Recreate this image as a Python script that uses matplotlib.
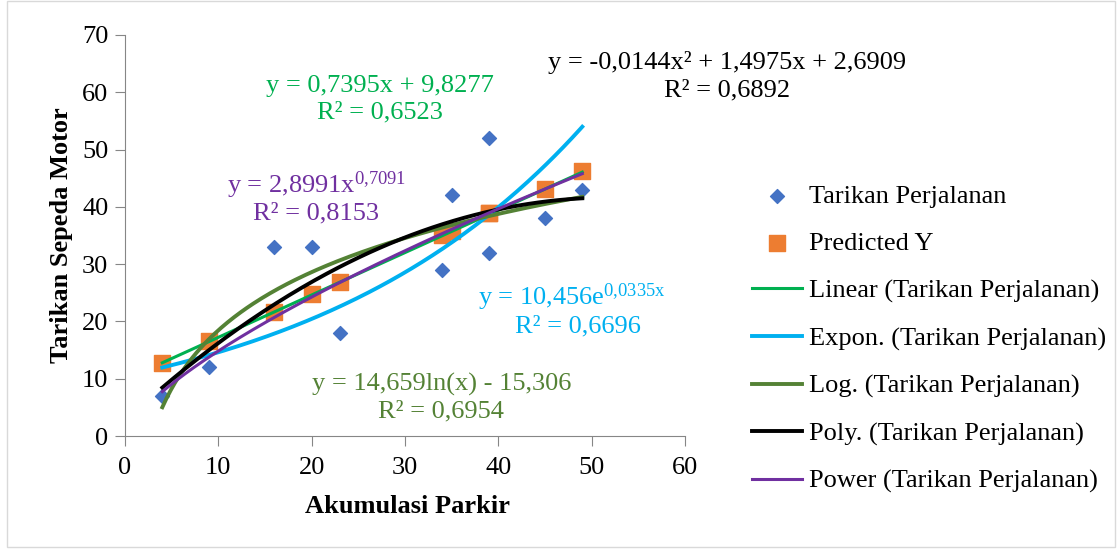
import matplotlib
matplotlib.use('Agg')
import matplotlib.pyplot as plt
import numpy as np
from matplotlib.patches import Rectangle

plt.rcParams['font.family'] = 'Liberation Serif'
plt.rcParams['mathtext.fontset'] = 'custom'
plt.rcParams['mathtext.rm'] = 'Liberation Serif'
plt.rcParams['mathtext.it'] = 'Liberation Serif'

# data
akumulasi = [4, 9, 16, 20, 23, 34, 35, 39, 39, 45, 49]
tarikan = [7, 12, 33, 33, 18, 29, 42, 52, 32, 38, 43]
predicted = [12.8, 16.5, 21.7, 24.8, 26.9, 35.0, 35.7, 38.9, 38.9, 43.2, 46.3]

# trendline coefficients as shown on the chart
lin_coef = [0.7395, 9.8277]
exp_coef = [10.456, 0.0335]
log_coef = [14.659, -15.306]
poly_coef = [-0.0144, 1.4975, 2.6909]
pow_coef = [2.8991, 0.7091]

c_blue = '#4472C4'
c_orange = '#ED7D31'
c_lin = '#00B050'
c_exp = '#00B0F0'
c_log = '#548235'
c_poly = '#000000'
c_pow = '#7030A0'

fs = 19

fig = plt.figure(figsize=(11.19, 5.51), dpi=100)
fig.patches.append(Rectangle((0.006, 0.008), 0.99, 0.99, transform=fig.transFigure,
                             fill=False, edgecolor='#D9D9D9', lw=1))
ax = fig.add_axes([0.1117, 0.2087, 0.5004, 0.7278])

xs = np.linspace(min(akumulasi), max(akumulasi), 200)
ax.scatter(akumulasi, tarikan, marker='D', s=50, color=c_blue, zorder=3,
           label='Tarikan Perjalanan')
ax.scatter(akumulasi, predicted, marker='s', s=120, color=c_orange, zorder=2,
           label='Predicted Y')
ax.plot(xs, np.polyval(lin_coef, xs), color=c_lin, lw=2.2, zorder=4,
        label='Linear (Tarikan Perjalanan)')
ax.plot(xs, exp_coef[0] * np.exp(exp_coef[1] * xs), color=c_exp, lw=2.8, zorder=4,
        label='Expon. (Tarikan Perjalanan)')
ax.plot(xs, log_coef[0] * np.log(xs) + log_coef[1], color=c_log, lw=2.8, zorder=4,
        label='Log. (Tarikan Perjalanan)')
ax.plot(xs, np.polyval(poly_coef, xs), color=c_poly, lw=2.8, zorder=4,
        label='Poly. (Tarikan Perjalanan)')
ax.plot(xs, pow_coef[0] * xs ** pow_coef[1], color=c_pow, lw=2.2, zorder=5,
        label='Power (Tarikan Perjalanan)')

ax.set_xlim(0, 60)
ax.set_ylim(0, 70)
ax.set_xticks(range(0, 61, 10))
ax.set_yticks(range(0, 71, 10))
for s in ['top', 'right']:
    ax.spines[s].set_visible(False)
for s in ['left', 'bottom']:
    ax.spines[s].set_color('#868686')
ax.tick_params(colors='#868686', labelcolor='black', labelsize=fs, length=7, pad=5)
ax.tick_params(axis='x', pad=8)
ax.set_xlabel('Akumulasi Parkir', fontsize=fs, fontweight='bold', va='center')
ax.set_ylabel('Tarikan Sepeda Motor', fontsize=fs, fontweight='bold', va='center')
ax.xaxis.set_label_coords(0.504, -0.177)
ax.yaxis.set_label_coords(-0.1125, 0.5)

ax.text(27.3, 58.8, 'y = 0,7395x + 9,8277\nR² = 0,6523', color=c_lin, fontsize=fs,
        ha='center', va='center', linespacing=1.3)
ax.text(64.5, 62.75, 'y = -0,0144x² + 1,4975x + 2,6909\nR² = 0,6892', color='black',
        fontsize=fs, ha='center', va='center', linespacing=1.3)
ax.text(20.5, 43.8, r'y = 2,8991x$^{0{,}7091}$', color=c_pow, fontsize=fs,
        ha='center', va='center')
ax.text(20.5, 38.8, 'R² = 0,8153', color=c_pow, fontsize=fs, ha='center', va='center')
ax.text(47.9, 24.3, r'y = 10,456e$^{0{,}0335x}$', color=c_exp, fontsize=fs,
        ha='center', va='center')
ax.text(48.5, 19.2, 'R² = 0,6696', color=c_exp, fontsize=fs, ha='center', va='center')
ax.text(33.9, 6.7, 'y = 14,659ln(x) - 15,306\nR² = 0,6954', color=c_log, fontsize=fs,
        ha='center', va='center', linespacing=1.3)

ax.legend(loc='upper left', bbox_to_anchor=(0.672, 0.665), bbox_transform=fig.transFigure,
          frameon=False, fontsize=fs, handlelength=1.9, handletextpad=0.27,
          labelspacing=0.9, borderaxespad=0, borderpad=0, scatterpoints=1)

fig.savefig('out.png', dpi=100)
